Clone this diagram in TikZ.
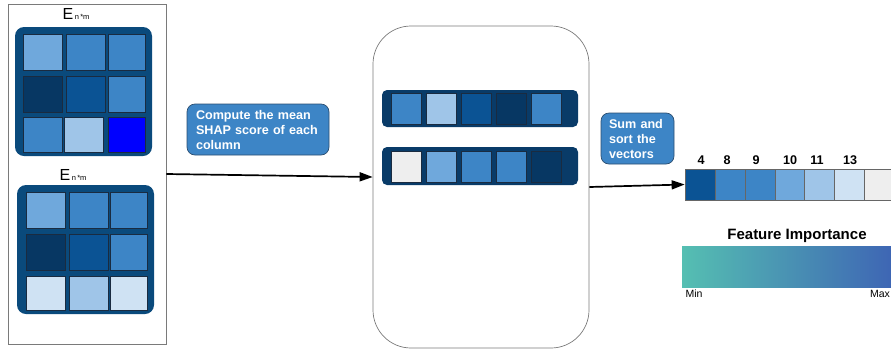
\documentclass[tikz,border=0pt]{standalone}
\usepackage{fontspec}
\setmainfont{Liberation Sans}
\usetikzlibrary{arrows.meta,calc}
\definecolor{cA}{HTML}{6FA8DC}
\definecolor{cB}{HTML}{3D85C6}
\definecolor{cC}{HTML}{073763}
\definecolor{cD}{HTML}{0B5394}
\definecolor{cE}{HTML}{9FC5E8}
\definecolor{cF}{HTML}{CFE2F3}
\definecolor{cG}{HTML}{0000FF}
\definecolor{cH}{HTML}{EEEEEE}
\definecolor{matbg}{HTML}{0A4A7C}
\definecolor{barbg}{HTML}{093B68}
\definecolor{cellline}{HTML}{1A2B40}
\definecolor{frame}{HTML}{7A7A7A}
\definecolor{boxline}{HTML}{2A4D70}
\definecolor{gradL}{HTML}{55BFB2}
\definecolor{gradR}{HTML}{3E66B4}
\tikzset{
  cell/.style={draw=cellline, line width=0.7pt, inner sep=0pt},
  mcell/.style={cell, minimum width=39pt, minimum height=36pt},
  vcell/.style={cell, minimum width=30pt, minimum height=31pt},
  scell/.style={draw=black!60, line width=0.7pt, inner sep=0pt, minimum width=30pt, minimum height=31pt},
  matbox/.style={fill=matbg, rounded corners=9pt, minimum width=137pt, minimum height=129pt, inner sep=0pt},
  barbox/.style={fill=barbg, rounded corners=5pt, minimum width=196pt, minimum height=37pt, inner sep=0pt},
  framebox/.style={draw=frame, line width=0.7pt, inner sep=0pt},
  note/.style={draw=boxline, line width=0.7pt, fill=cB, rounded corners=8pt, text=white, align=left,
    font=\fontsize{12.6}{15}\selectfont\bfseries, inner ysep=0pt},
  arr/.style={line width=1.7pt, -{Triangle[length=13pt,width=9pt]}},
  idx/.style={font=\fontsize{12.6}{15}\selectfont\bfseries, inner sep=0pt},
  mtitle/.style={inner sep=0pt, anchor=base}
}
\newcommand{\Etitle}{{\fontsize{16}{16}\selectfont E}\,{\fontsize{7.5}{8}\selectfont n\,*m}}
\begin{document}
\begin{tikzpicture}[x=1pt,y=-1pt]
\useasboundingbox (0,0) rectangle (891,349);
% left frame
\node[framebox, minimum width=158pt, minimum height=340pt] (leftbox) at (87,174) {};
% top matrix
\node[mtitle] (ttitle) at (76,19) {\Etitle};
\node[matbox] (tmat) at (83.5,91.5) {};
\node[mcell, fill=cA] (t11) at (43,52) {};
\node[mcell, fill=cB] (t12) at (85.5,52) {};
\node[mcell, fill=cB, minimum width=37pt] (t13) at (127,52) {};
\node[mcell, fill=cC] (t21) at (43,94.5) {};
\node[mcell, fill=cD] (t22) at (85.5,94.5) {};
\node[mcell, fill=cB, minimum width=37pt] (t23) at (127,94.5) {};
\node[mcell, fill=cB, minimum height=35pt] (t31) at (43,134.5) {};
\node[mcell, fill=cE, minimum height=35pt] (t32) at (84,134.5) {};
\node[mcell, fill=cG, minimum height=35pt, minimum width=37pt] (t33) at (127,134.5) {};
% bottom matrix
\node[mtitle] (btitle) at (73,180) {\Etitle};
\node[matbox] (bmat) at (85.5,249.5) {};
\node[mcell, fill=cA] (b11) at (45.5,210.5) {};
\node[mcell, fill=cB] (b12) at (88.5,210.5) {};
\node[mcell, fill=cB, minimum width=37pt] (b13) at (129,210.5) {};
\node[mcell, fill=cC] (b21) at (45.5,252.5) {};
\node[mcell, fill=cD] (b22) at (88.5,252.5) {};
\node[mcell, fill=cB, minimum width=37pt] (b23) at (129,252.5) {};
\node[mcell, fill=cF, minimum height=34pt] (b31) at (45.5,293) {};
\node[mcell, fill=cE, minimum height=34pt] (b32) at (88.5,293) {};
\node[mcell, fill=cF, minimum height=34pt, minimum width=37pt] (b33) at (129,293) {};
% note 1
\node[note, text width=124pt, inner xsep=9pt, minimum height=51pt] (note1) at (258,129.5)
  {Compute the mean\\SHAP score of each\\column};
% middle box
\node[framebox, rounded corners=38pt, minimum width=216pt, minimum height=322pt] (midbox) at (481,187) {};
\node[barbox] (bar1) at (480,108.5) {};
\node[vcell, fill=cB] (v11) at (406,108.5) {};
\node[vcell, fill=cE] (v12) at (441,108.5) {};
\node[vcell, fill=cD] (v13) at (476,108.5) {};
\node[vcell, fill=cC] (v14) at (511,108.5) {};
\node[vcell, fill=cB] (v15) at (546,108.5) {};
\node[barbox, minimum height=38pt] (bar2) at (480,166) {};
\node[vcell, fill=cH] (v21) at (406,166.5) {};
\node[vcell, fill=cA] (v22) at (441,166.5) {};
\node[vcell, fill=cB] (v23) at (476,166.5) {};
\node[vcell, fill=cB] (v24) at (511,166.5) {};
\node[vcell, fill=cC] (v25) at (546,166.5) {};
% arrow 1
\draw[arr] (leftbox.east) -- ($(midbox.west)+(0,-10)$);
% note 2
\node[note, text width=57pt, inner xsep=8pt, minimum height=51pt] (note2) at (637.5,138.5)
  {Sum and\\sort the\\vectors};
% sorted vector
\begin{scope}
\clip (0,0) rectangle (891,349);
\node[scell, fill=cD] (s1) at (700,184.5) {};
\node[scell, fill=cB] (s2) at (730,184.5) {};
\node[scell, fill=cB] (s3) at (760,184.5) {};
\node[scell, fill=cA] (s4) at (790,184.5) {};
\node[scell, fill=cE] (s5) at (819.5,184.5) {};
\node[scell, fill=cF] (s6) at (849,184.5) {};
\node[scell, fill=cH] (s7) at (879,184.5) {};
\end{scope}
\node[idx] (l4) at (701,160) {4};
\node[idx] (l8) at (727,160) {8};
\node[idx] (l9) at (756,160) {9};
\node[idx] (l10) at (790,160) {10};
\node[idx] (l11) at (817,160) {11};
\node[idx] (l13) at (850,160) {13};
% arrow 2
\draw[arr] (midbox.east) -- (s1.west);
% legend
\node[font=\fontsize{15}{18}\selectfont\bfseries, inner sep=0pt] (ftitle) at (797,236) {Feature Importance};
\node[inner sep=0pt, minimum width=209pt, minimum height=41pt, left color=gradL, right color=gradR] (grad) at (786.5,266.5) {};
\node[font=\fontsize{10.5}{12}\selectfont, inner sep=0pt] (lmin) at (694,294) {Min};
\node[font=\fontsize{10.5}{12}\selectfont, inner sep=0pt] (lmax) at (880,294) {Max};
\end{tikzpicture}
\end{document}
